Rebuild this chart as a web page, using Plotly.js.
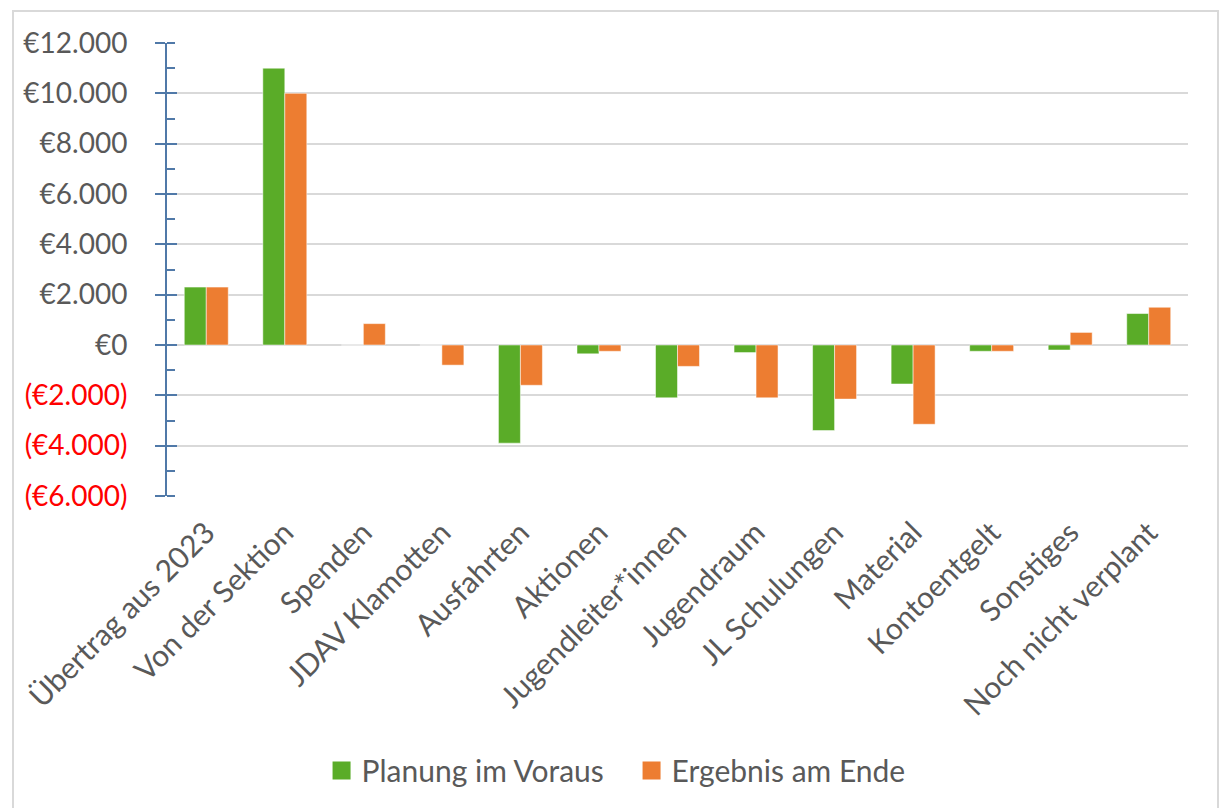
<!DOCTYPE html>
<html>
<head>
<meta charset="utf-8">
<script src="https://cdn.plot.ly/plotly-3.0.1.min.js"></script>
<style>
  html, body { margin: 0; padding: 0; background: #fff; }
  #wrap { position: relative; width: 1219px; height: 808px; overflow: hidden; }
  #chart { position: absolute; left: 0; top: 0; width: 1219px; height: 808px; }
  #frame { position: absolute; left: 12px; top: 10px; width: 1203px; height: 820px;
           border: 2px solid #D9D9D9; pointer-events: none; }
</style>
</head>
<body>
<div id="wrap">
  <div id="chart"></div>
  <div id="frame"></div>
</div>
<script>
const categories = ["Übertrag aus 2023", "Von der Sektion", "Spenden", "JDAV Klamotten", "Ausfahrten",
  "Aktionen", "Jugendleiter*innen", "Jugendraum", "JL Schulungen", "Material",
  "Kontoentgelt", "Sonstiges", "Noch nicht verplant"];
const planung = [2300, 11000, 0, 0, -3900, -350, -2100, -300, -3400, -1550, -250, -200, 1250];
const ergebnis = [2300, 10000, 850, -800, -1600, -250, -850, -2100, -2150, -3150, -250, 500, 1500];
const seriesNames = ["Planung im Voraus", "Ergebnis am Ende"];
const tickValues = [-6000, -4000, -2000, 0, 2000, 4000, 6000, 8000, 10000, 12000];
const tickLabels = ["(€6.000)", "(€4.000)", "(€2.000)", "€0", "€2.000", "€4.000", "€6.000", "€8.000", "€10.000", "€12.000"];

const ticktext = tickLabels.map((t, i) =>
  tickValues[i] < 0 ? '<span style="color:#FF0000">' + t + '</span>' : t);

const fam = "Lato, 'Open Sans', sans-serif";
const grey = "#595959";
const axisBlue = "#5079A8";

const traces = [
  { type: "bar", name: seriesNames[0], x: categories, y: planung,
    marker: { color: "#5AAC28", line: { color: "rgba(255,255,255,0.5)", width: 1 } } },
  { type: "bar", name: seriesNames[1], x: categories, y: ergebnis,
    marker: { color: "#ED7D31", line: { color: "rgba(255,255,255,0.5)", width: 1 } } },
  { type: "scatter", x: [categories[0]], y: [0], yaxis: "y2", showlegend: false,
    mode: "markers", marker: { opacity: 0, size: 1 }, hoverinfo: "skip" }
];

const layout = {
  width: 1219, height: 808,
  paper_bgcolor: "rgba(0,0,0,0)", plot_bgcolor: "rgba(0,0,0,0)",
  margin: { l: 167, r: 31, t: 43, b: 308 },
  font: { family: fam, size: 28, color: grey },
  barmode: "group", bargap: 0.44, bargroupgap: 0,
  showlegend: true,
  legend: { orientation: "h", x: 0.455, xanchor: "center", y: -0.606, yanchor: "middle",
            font: { family: fam, size: 30, color: grey }, itemwidth: 30, entrywidth: 265,
            bgcolor: "rgba(0,0,0,0)" },
  xaxis: { type: "category", range: [-0.5, 12.5], tickangle: -45, showgrid: false, showline: false, ticks: "",
           zeroline: false, ticklabelstandoff: 12, tickfont: { family: fam, size: 30, color: grey } },
  yaxis: { range: [-6000, 12000], tickvals: tickValues, ticktext: ticktext,
           showgrid: true, gridcolor: "#D9D9D9", gridwidth: 2,
           zeroline: true, zerolinecolor: "#D9D9D9", zerolinewidth: 2,
           showline: true, linecolor: axisBlue, linewidth: 2,
           ticks: "outside", ticklen: 10, tickwidth: 2, tickcolor: axisBlue,
           ticklabelstandoff: 22,
           minor: { dtick: 1000, tick0: 0, ticks: "inside", ticklen: 8, tickwidth: 2, tickcolor: axisBlue, showgrid: false },
           tickfont: { family: fam, size: 28, color: grey } },
  yaxis2: { overlaying: "y", side: "left", range: [-6000, 12000], tickvals: tickValues,
            showticklabels: false, showgrid: false, zeroline: false, showline: false,
            ticks: "inside", ticklen: 10, tickwidth: 2, tickcolor: axisBlue }
};

Plotly.newPlot("chart", traces, layout, { displayModeBar: false, staticPlot: true }).then(() => {
  document.querySelectorAll("#chart .legend .legendpoints path").forEach(p => {
    const d = p.getAttribute("d") || "";
    if (/^M6,6H-6V-6H6Z$/.test(d.replace(/\s/g, ""))) {
      p.setAttribute("d", "M9,9H-9V-9H9Z");
      p.style.strokeWidth = "0px";
    }
  });
});
</script>
</body>
</html>
